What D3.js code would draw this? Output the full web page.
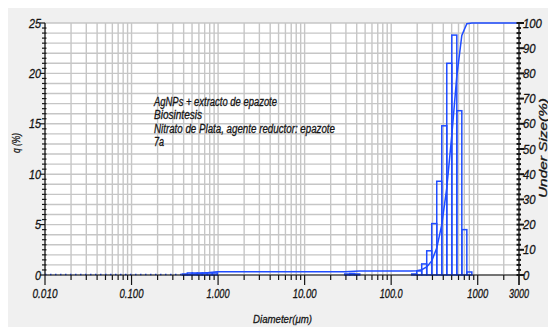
<!DOCTYPE html>
<html><head><meta charset="utf-8">
<script src="https://cdn.jsdelivr.net/npm/d3@7"></script>
<style>html,body{margin:0;padding:0;background:#fff;overflow:hidden}</style>
</head><body>
<svg id="c" width="548" height="327"></svg>
<script>
// ---- data ----
const binLow  = [0.3861,0.4412,0.5040,0.5758,0.6579,0.7517,0.8588, 29.07,33.21,37.95,
                 172.7,197.3,225.4,257.5,294.3,336.3,384.3,439.1,501.7,573.3,655.1,748.6];
const binHigh = [0.4412,0.5040,0.5758,0.6579,0.7517,0.8588,0.9812, 33.21,37.95,43.36,
                 197.3,225.4,257.5,294.3,336.3,384.3,439.1,501.7,573.3,655.1,748.6,855.4];
const qValues = [0.1,0.2,0.2,0.2,0.2,0.2,0.2, 0.1,0.15,0.1,
                 0.1,0.4,1.1,2.4,5.1,9.3,14.8,21.0,23.8,16.3,4.5,0.3];
const cumDiam = [0.3861,0.4412,0.5040,0.5758,0.6579,0.7517,0.8588,0.9812,29.07,33.21,37.95,43.36,
                 172.7,197.3,225.4,257.5,294.3,336.3,384.3,439.1,501.7,573.3,655.1,748.6,855.4,3000];
const cumValues = [0,0.1,0.3,0.5,0.7,0.9,1.1,1.3,1.3,1.4,1.5,1.6,
                 1.6,1.7,2.1,3.2,5.6,10.7,20.0,34.6,55.4,78.9,95.1,99.7,100,100];
const xTickValues = [0.01,0.1,1,10,100,1000,3000];
const xTickLabels = ["0.010","0.100","1.000","10.00","100.0","1000","3000"];
const yTickValues = [0,5,10,15,20,25];
const y2TickValues = [0,10,20,30,40,50,60,70,80,90,100];
const notes = ["AgNPs + extracto de epazote","Biosintesis","Nitrato de Plata, agente reductor: epazote","7a"];
const noteWidths = [123,48,181,10];

// ---- layout ----
const L=45, R=519, T=23, B=275;
const blue="#1f4cff", grid="#c6c6c6", ink="#151515";
const svg=d3.select("#c");
svg.append("rect").attr("width",548).attr("height",327).attr("fill","#fff");
svg.append("rect").attr("x",8).attr("y",8).attr("width",540).attr("height",319).attr("fill","#f0f0f0");
svg.append("rect").attr("x",L).attr("y",T).attr("width",R-L).attr("height",B-T).attr("fill","#fff");

const x=d3.scaleLog().domain([0.01,3000]).range([L,R]);
const y=d3.scaleLinear().domain([0,25]).range([B,T]);
const y2=d3.scaleLinear().domain([0,100]).range([B,T]);

// minor log positions
const logPos=[];
for(let e=-2;e<=3;e++){for(let m=1;m<=9;m++){const v=m*Math.pow(10,e); if(v>=0.01&&v<=3000) logPos.push(v);}}
logPos.push(3000);

const g=svg.append("g");
// grid
g.selectAll(".vg").data(logPos).enter().append("line")
 .attr("x1",d=>x(d)).attr("x2",d=>x(d)).attr("y1",T).attr("y2",B)
 .attr("stroke",grid).attr("stroke-width",1.4);
g.selectAll(".hg").data(d3.range(0,26)).enter().append("line")
 .attr("x1",L).attr("x2",R).attr("y1",d=>y(d)).attr("y2",d=>y(d))
 .attr("stroke",grid).attr("stroke-width",1.4);

// histogram bars
const bars=binLow.map((d,i)=>({lo:d,hi:binHigh[i],q:qValues[i]}));
g.selectAll(".bar").data(bars).enter().append("rect")
 .attr("x",d=>x(d.lo)).attr("width",d=>x(d.hi)-x(d.lo))
 .attr("y",d=>y(d.q)).attr("height",d=>y(0)-y(d.q))
 .attr("fill","none").attr("stroke",blue).attr("stroke-width",1.5);

// zero dotted line
g.append("line").attr("x1",x(0.01)).attr("x2",x(binLow[0])).attr("y1",y(0)-0.5).attr("y2",y(0)-0.5)
 .attr("stroke",blue).attr("stroke-width",1.5).attr("stroke-dasharray","1.5,3.5");

// cumulative line
const cum=cumDiam.map((d,i)=>[d,cumValues[i]]);
g.append("path").datum(cum)
 .attr("d",d3.line().x(d=>x(d[0])).y(d=>y2(d[1])))
 .attr("fill","none").attr("stroke",blue).attr("stroke-width",1.5);

// axes lines
const ax=svg.append("g").attr("stroke",ink).attr("stroke-width",1.2);
ax.append("line").attr("x1",L).attr("x2",R).attr("y1",B).attr("y2",B);
ax.append("line").attr("x1",L).attr("x2",L).attr("y1",T).attr("y2",B);
ax.append("line").attr("x1",R).attr("x2",R).attr("y1",T).attr("y2",B);
// bottom ticks
ax.selectAll(".xt").data(logPos).enter().append("line")
 .attr("x1",d=>x(d)).attr("x2",d=>x(d)).attr("y1",B)
 .attr("y2",d=>xTickValues.includes(d)?B+10:B+5);
// left ticks
ax.selectAll(".ylm").data(d3.range(0,25.01,0.5).filter(v=>v%5!==0)).enter().append("line")
 .attr("x1",L-3).attr("x2",L+1.5).attr("y1",d=>y(d)).attr("y2",d=>y(d));
ax.selectAll(".ylM").data(yTickValues).enter().append("line")
 .attr("x1",L-5).attr("x2",L).attr("y1",d=>y(d)).attr("y2",d=>y(d));
// right ticks
ax.selectAll(".yrm").data(d3.range(0,100.01,2).filter(v=>v%10!==0)).enter().append("line")
 .attr("x1",R-2.5).attr("x2",R+2).attr("y1",d=>y2(d)).attr("y2",d=>y2(d)).attr("stroke-width",2);
ax.selectAll(".yrM").data(y2TickValues).enter().append("line")
 .attr("x1",R-2.5).attr("x2",R+5).attr("y1",d=>y2(d)).attr("y2",d=>y2(d)).attr("stroke-width",2);

const font="'Liberation Sans', Arial, sans-serif";
const txt=svg.append("g").attr("font-family",font).attr("font-style","italic").attr("fill",ink)
 .attr("stroke",ink).attr("stroke-width",0.3);
// x labels
const xlw=[25,24,23,24,23,21,20];
txt.selectAll(".xl").data(xTickValues).enter().append("text")
 .attr("x",(d,i)=>x(d)-xlw[i]/2).attr("y",298).attr("font-size",12.5)
 .attr("textLength",(d,i)=>xlw[i]).attr("lengthAdjust","spacingAndGlyphs")
 .text((d,i)=>xTickLabels[i]);
// left labels
txt.selectAll(".yl").data(yTickValues).enter().append("text")
 .attr("x",41).attr("y",d=>y(d)+4.5).attr("text-anchor","end").attr("font-size",12.5)
 .attr("textLength",d=>String(d).length*6).attr("lengthAdjust","spacingAndGlyphs")
 .text(d=>d);
// right labels
txt.selectAll(".yr").data(y2TickValues).enter().append("text")
 .attr("x",523).attr("y",d=>y2(d)+4.5).attr("font-size",12.5)
 .attr("textLength",d=>String(d).length*6.3).attr("lengthAdjust","spacingAndGlyphs")
 .text(d=>d);
// axis titles
txt.append("text").attr("transform","translate(20,143) rotate(-90)").attr("text-anchor","middle")
 .attr("font-size",11.5).attr("textLength",20).attr("lengthAdjust","spacingAndGlyphs").text("q (%)");
txt.append("text").attr("transform","translate(547,148) rotate(-90)").attr("text-anchor","middle")
 .attr("font-size",10.5).attr("textLength",100).attr("lengthAdjust","spacingAndGlyphs").text("Under Size(%)");
txt.append("text").attr("x",253).attr("y",323)
 .attr("font-size",11.5).attr("textLength",59).attr("lengthAdjust","spacingAndGlyphs").text("Diameter(μm)");
// notes
txt.selectAll(".note").data(notes).enter().append("text")
 .attr("x",154).attr("y",(d,i)=>106+i*13.4).attr("font-size",12)
 .attr("textLength",(d,i)=>noteWidths[i]).attr("lengthAdjust","spacingAndGlyphs")
 .text(d=>d);
</script>
</body></html>
